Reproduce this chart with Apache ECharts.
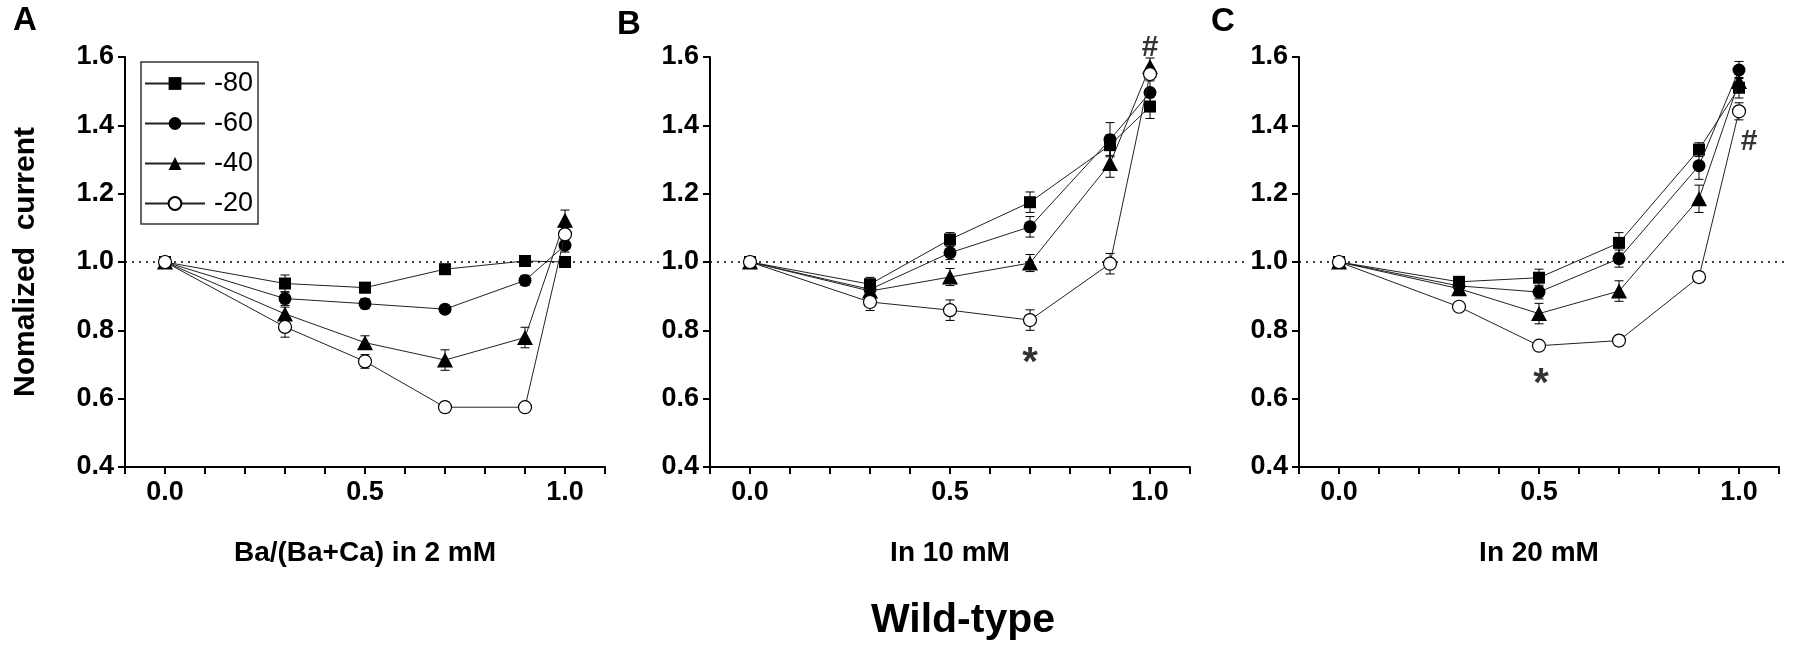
<!DOCTYPE html>
<html><head><meta charset="utf-8">
<script src="https://cdn.jsdelivr.net/npm/echarts@6/dist/echarts.min.js"></script>
<style>html,body{margin:0;padding:0;background:#fff}#c{width:1795px;height:650px}</style>
</head><body><div id="c"></div>
<script>
// ---------- data ----------
const xValues = [0, 0.3, 0.5, 0.7, 0.9, 1.0];
const seriesNames = ['-80', '-60', '-40', '-20'];
const xTickLabels = ['0.0', '0.5', '1.0'];
const panelLetters = ['A', 'B', 'C'];
const xTitles = ['Ba/(Ba+Ca) in 2 mM', 'In 10 mM', 'In 20 mM'];
const yTitle = 'Nomalized  current';
const figTitle = 'Wild-type';
const refValue = 1.0;

// Panel A
const A_m80 = [1.0, 0.937, 0.925, 0.979, 1.003, 1.0];
const A_m60 = [1.0, 0.893, 0.878, 0.862, 0.946, 1.049];
const A_m40 = [1.0, 0.848, 0.764, 0.713, 0.779, 1.122];
const A_m20 = [1.0, 0.81, 0.709, 0.575, 0.575, 1.081];
const A_m80_err = [0, 0.025, 0.015, 0.01, 0.01, 0.01];
const A_m60_err = [0, 0.02, 0.015, 0.01, 0.015, 0.02];
const A_m40_err = [0, 0.02, 0.02, 0.03, 0.03, 0.03];
const A_m20_err = [0, 0.03, 0.02, 0.015, 0.01, 0.02];

// Panel B
const B_m80 = [1.0, 0.935, 1.066, 1.175, 1.342, 1.455];
const B_m60 = [1.0, 0.92, 1.027, 1.103, 1.358, 1.496];
const B_m40 = [1.0, 0.915, 0.956, 0.997, 1.288, 1.572];
const B_m20 = [1.0, 0.883, 0.859, 0.83, 0.995, 1.55];
const B_m80_err = [0, 0.02, 0.02, 0.03, 0.03, 0.035];
const B_m60_err = [0, 0.02, 0.02, 0.03, 0.05, 0.04];
const B_m40_err = [0, 0.02, 0.025, 0.025, 0.04, 0.025];
const B_m20_err = [0, 0.025, 0.03, 0.03, 0.03, 0.02];

// Panel C
const C_m80 = [1.0, 0.942, 0.954, 1.056, 1.329, 1.51];
const C_m60 = [1.0, 0.93, 0.912, 1.01, 1.282, 1.562];
const C_m40 = [1.0, 0.922, 0.849, 0.915, 1.185, 1.528];
const C_m20 = [1.0, 0.869, 0.755, 0.77, 0.956, 1.441];
const C_m80_err = [0, 0.015, 0.025, 0.03, 0.02, 0.03];
const C_m60_err = [0, 0.015, 0.02, 0.025, 0.04, 0.025];
const C_m40_err = [0, 0.02, 0.03, 0.03, 0.04, 0.03];
const C_m20_err = [0, 0.01, 0.01, 0.015, 0.015, 0.025];

// annotations [x, y, text]
const annotA = [];
const annotB = [[0.7, 0.73, '*'], [1.0, 1.63, '#']];
const annotC = [[0.505, 0.67, '*'], [1.025, 1.356, '#']];

// ---------- build ----------
const FONT = "'Liberation Sans', Arial, Helvetica, sans-serif";
const panels = [
  { vals: [A_m80, A_m60, A_m40, A_m20], errs: [A_m80_err, A_m60_err, A_m40_err, A_m20_err], annot: annotA },
  { vals: [B_m80, B_m60, B_m40, B_m20], errs: [B_m80_err, B_m60_err, B_m40_err, B_m20_err], annot: annotB },
  { vals: [C_m80, C_m60, C_m40, C_m20], errs: [C_m80_err, C_m60_err, C_m40_err, C_m20_err], annot: annotC }
];
const gridLefts = [125, 710, 1299];
const extWidths = [537, 535, 488];
const GTOP = 57, GH = 410, GW = 480;

const symStyles = [
  { symbol: 'rect', symbolSize: 12, itemStyle: { color: '#000' } },
  { symbol: 'circle', symbolSize: 13, itemStyle: { color: '#000' } },
  { symbol: 'triangle', symbolSize: [16, 15], itemStyle: { color: '#000' } },
  { symbol: 'circle', symbolSize: 13, itemStyle: { color: '#fff', borderColor: '#000', borderWidth: 1.2 } }
];

const grids = [], xAxes = [], yAxes = [], series = [];
panels.forEach((p, k) => {
  grids.push({ left: gridLefts[k], top: GTOP, width: GW, height: GH });
  xAxes.push({
    type: 'value', gridIndex: k, min: -0.1, max: 1.1, interval: 0.1,
    axisLine: { show: true, onZero: false, lineStyle: { color: '#000', width: 2 } },
    axisTick: { show: true, inside: false, length: 7, lineStyle: { color: '#000', width: 2 } },
    splitLine: { show: false },
    axisLabel: {
      margin: 12, color: '#000', fontSize: 27, fontWeight: 'bold', fontFamily: FONT,
      formatter: v => { const s = v.toFixed(1); return xTickLabels.indexOf(s) >= 0 && Math.abs(v - parseFloat(s)) < 1e-6 ? s : ''; },
      showMinLabel: true, showMaxLabel: true
    },
    name: xTitles[k], nameLocation: 'middle', nameGap: 72,
    nameTextStyle: { color: '#000', fontSize: 28, fontWeight: 'bold', fontFamily: FONT }
  });
  yAxes.push({
    type: 'value', gridIndex: k, min: 0.4, max: 1.6, interval: 0.2,
    axisLine: { show: true, onZero: false, lineStyle: { color: '#000', width: 2 } },
    axisTick: { show: true, inside: false, length: 7, lineStyle: { color: '#000', width: 2 } },
    splitLine: { show: false },
    axisLabel: { margin: 11, color: '#000', fontSize: 27, fontWeight: 'bold', fontFamily: FONT, formatter: v => v.toFixed(1) },
    name: k === 0 ? yTitle : '', nameLocation: 'middle', nameRotate: 90, nameGap: 84,
    nameTextStyle: { color: '#000', fontSize: 30, fontWeight: 'bold', fontFamily: FONT }
  });
});
// extended hidden grids for dotted reference lines
panels.forEach((p, k) => {
  grids.push({ left: gridLefts[k], top: GTOP, width: extWidths[k], height: GH });
  xAxes.push({ type: 'value', gridIndex: 3 + k, min: 0, max: 1, show: false });
  yAxes.push({ type: 'value', gridIndex: 3 + k, min: 0.4, max: 1.6, show: false });
  series.push({
    type: 'line', xAxisIndex: 3 + k, yAxisIndex: 3 + k, data: [], silent: true, z: 1,
    markLine: {
      silent: true, symbol: 'none', animation: false, label: { show: false },
      lineStyle: { type: [2, 5], color: '#000', width: 1.6 },
      data: [{ yAxis: refValue }]
    }
  });
});

panels.forEach((p, k) => {
  p.vals.forEach((vals, s) => {
    const errs = p.errs[s];
    series.push({
      type: 'custom', xAxisIndex: k, yAxisIndex: k, z: 2, silent: true, clip: false,
      data: xValues.map((x, i) => [x, vals[i], errs[i]]),
      encode: { x: 0, y: 1 },
      renderItem: (params, api) => {
        const x = api.value(0), v = api.value(1), e = api.value(2);
        if (!e) return null;
        const t = api.coord([x, v + e]), b = api.coord([x, v - e]);
        const hw = 4.5;
        const st = { stroke: '#000', lineWidth: 1 };
        return { type: 'group', children: [
          { type: 'line', shape: { x1: t[0], y1: t[1], x2: b[0], y2: b[1] }, style: st },
          { type: 'line', shape: { x1: t[0] - hw, y1: t[1], x2: t[0] + hw, y2: t[1] }, style: st },
          { type: 'line', shape: { x1: b[0] - hw, y1: b[1], x2: b[0] + hw, y2: b[1] }, style: st }
        ] };
      }
    });
  });
  p.vals.forEach((vals, s) => {
    series.push(Object.assign({
      type: 'line', name: seriesNames[s], xAxisIndex: k, yAxisIndex: k, z: 3 + s,
      data: xValues.map((x, i) => [x, vals[i]]),
      lineStyle: { color: '#222', width: 1 },
      showSymbol: true, silent: true, animation: false, clip: false,
      emphasis: { disabled: true }
    }, symStyles[s]));
  });
  if (p.annot.length) {
    series.push({
      type: 'scatter', xAxisIndex: k, yAxisIndex: k, symbolSize: 0, silent: true, z: 10, clip: false,
      data: p.annot.map(a => ({ value: [a[0], a[1]], label: {
        show: true, position: 'inside', formatter: a[2], color: '#000', fontWeight: 'bold', fontFamily: FONT,
        fontSize: a[2] === '*' ? 40 : 30, offset: a[2] === '*' ? [0, 10] : [0, 1]
      } }))
    });
  }
});

const graphics = [
  { type: 'text', left: 13, top: 4, style: { text: panelLetters[0], font: 'bold 33px ' + FONT, fill: '#000' } },
  { type: 'text', left: 617, top: 8, style: { text: panelLetters[1], font: 'bold 33px ' + FONT, fill: '#000' } },
  { type: 'text', left: 1211, top: 5, style: { text: panelLetters[2], font: 'bold 33px ' + FONT, fill: '#000' } },
  { type: 'text', x: 963, y: 600, style: { text: figTitle, font: 'bold 41px ' + FONT, fill: '#000', align: 'center', verticalAlign: 'top' } }
];

const chart = echarts.init(document.getElementById('c'), null, { renderer: 'canvas' });
chart.setOption({
  animation: false,
  backgroundColor: '#fff',
  grid: grids, xAxis: xAxes, yAxis: yAxes, series: series,
  legend: {
    data: seriesNames, orient: 'vertical', left: 141, top: 62,
    padding: [8, 5, 7, 3], itemGap: 13, itemWidth: 60, itemHeight: 16,
    borderColor: '#333', borderWidth: 1.5, selectedMode: false,
    textStyle: { fontSize: 27, fontFamily: FONT, color: '#000', lineHeight: 26, padding: [0, 0, 0, 4] }
  },
  graphic: graphics
});
</script></body></html>
